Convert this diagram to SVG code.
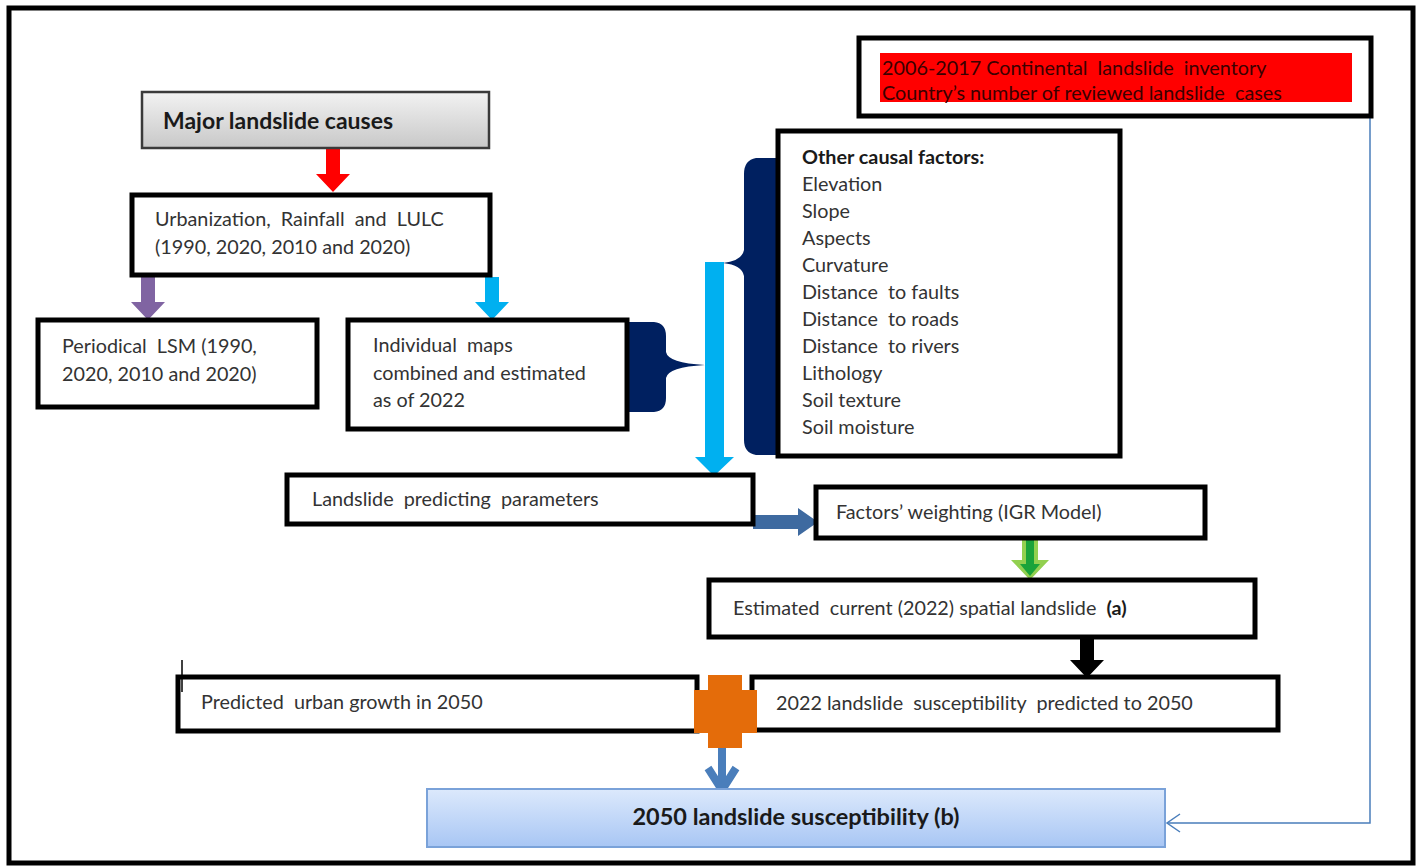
<svg xmlns="http://www.w3.org/2000/svg" width="1421" height="867" viewBox="0 0 1421 867">
<defs>
<style>
.t{font-family:Lato,"Open Sans","Liberation Sans",sans-serif;font-size:19.8px;fill:#333333;white-space:pre}
.b{font-weight:bold;fill:#1a1a1a}
.box{fill:#ffffff;stroke:#000000;stroke-width:5}
</style>
<linearGradient id="gGray" x1="0" y1="0" x2="0" y2="1">
<stop offset="0" stop-color="#f2f2f2"/><stop offset="1" stop-color="#c8c8c8"/>
</linearGradient>
<linearGradient id="gBlue" x1="0" y1="0" x2="0" y2="1">
<stop offset="0" stop-color="#dce9fc"/><stop offset="1" stop-color="#a8c6f4"/>
</linearGradient>
</defs>
<rect x="0" y="0" width="1421" height="867" fill="#ffffff"/>
<rect x="9" y="8" width="1404" height="855" fill="none" stroke="#000" stroke-width="5"/>

<g id="connectors">
<polygon points="326,146 340,146 340,174 350,174 333,192 316,174 326,174" fill="#ff0000"/>
<polygon points="141,277 155,277 155,302 165,302 148,320 131,302 141,302" fill="#8064a2"/>
<polygon points="485,277 499,277 499,302 509,302 492,320 475,302 485,302" fill="#00b0f0"/>
<path d="M628,322 L654,322 Q666,323 666,336 L666,352 Q668,363 705,365 Q668,367 666,378 L666,398 Q666,411 654,412 L628,412 Z" fill="#002060"/>
<path d="M782,158 L756,158 Q744,160 744,174 L744,250 Q742,261 723,263 Q742,265 744,276 L744,440 Q744,453 756,455 L782,455 Z" fill="#002060"/>
<polygon points="705,262 724,262 724,457 734,457 714,476 695,457 705,457" fill="#00b0f0"/>
<polygon points="753,515 798,515 798,508 818,522 798,536 798,529 753,529" fill="#3e6aa0"/>
<polygon points="1022,538 1038,538 1038,560 1049,560 1030,580 1011,560 1022,560" fill="#92d050"/>
<polygon points="1026,540 1034,540 1034,564 1040,564 1030,576 1020,564 1026,564" fill="#1aa33a"/>
<polygon points="1080,637 1094,637 1094,660 1104,660 1087,678 1070,660 1080,660" fill="#000000"/>
<polyline points="1370,50 1370,823 1167,823" fill="none" stroke="#4a7ebb" stroke-width="1.5"/>
<polyline points="1180,814 1167,823 1180,832" fill="none" stroke="#4a7ebb" stroke-width="1.5"/>
<line x1="722" y1="748" x2="722" y2="786" stroke="#4a7ebb" stroke-width="8"/>
<polyline points="708,768 722,790 736,768" fill="none" stroke="#4a7ebb" stroke-width="8"/>
</g>

<g id="n-major">
<rect x="142" y="92" width="347" height="56" fill="url(#gGray)" stroke="#3a3a3a" stroke-width="2.5"/>
<text class="t b" x="163" y="129" style="font-size:23px">Major landslide causes</text>
</g>

<g id="n-urban">
<rect class="box" x="132" y="195" width="358" height="80"/>
<text class="t" x="155" y="226">Urbanization,  Rainfall  and  LULC</text>
<text class="t" x="155" y="254">(1990, 2020, 2010 and 2020)</text>
</g>

<g id="n-periodical">
<rect class="box" x="38" y="320" width="279" height="87"/>
<text class="t" x="62" y="353">Periodical  LSM (1990,</text>
<text class="t" x="62" y="381">2020, 2010 and 2020)</text>
</g>

<g id="n-individual">
<rect class="box" x="348" y="320" width="279" height="109"/>
<text class="t" x="373" y="352">Individual  maps</text>
<text class="t" x="373" y="380">combined and estimated</text>
<text class="t" x="373" y="407">as of 2022</text>
</g>

<g id="n-other">
<rect class="box" x="778" y="131" width="342" height="325"/>
<text class="t b" x="802" y="164">Other causal factors:</text>
<text class="t" x="802" y="191">Elevation</text>
<text class="t" x="802" y="218">Slope</text>
<text class="t" x="802" y="245">Aspects</text>
<text class="t" x="802" y="272">Curvature</text>
<text class="t" x="802" y="299">Distance  to faults</text>
<text class="t" x="802" y="326">Distance  to roads</text>
<text class="t" x="802" y="353">Distance  to rivers</text>
<text class="t" x="802" y="380">Lithology</text>
<text class="t" x="802" y="407">Soil texture</text>
<text class="t" x="802" y="434">Soil moisture</text>
</g>

<g id="n-inventory">
<rect class="box" x="859" y="38" width="512" height="78"/>
<rect x="880" y="53" width="472" height="49" fill="#ff0000"/>
<text class="t" x="882" y="75" style="fill:#3a0000">2006-2017 Continental  landslide  inventory</text>
<text class="t" x="882" y="100" style="fill:#3a0000">Country’s number of reviewed landslide  cases</text>
</g>

<g id="n-params">
<rect class="box" x="287" y="475" width="466" height="49"/>
<text class="t" x="312" y="506">Landslide  predicting  parameters</text>
</g>

<g id="n-weighting">
<rect class="box" x="816" y="487" width="389" height="51"/>
<text class="t" x="836" y="519">Factors’ weighting (IGR Model)</text>
</g>

<g id="n-estimated">
<rect class="box" x="709" y="580" width="546" height="57"/>
<text class="t" x="733" y="615">Estimated  current (2022) spatial landslide  <tspan class="b">(a)</tspan></text>
</g>

<g id="n-urbangrowth">
<rect class="box" x="178" y="677" width="519" height="54"/>
<line x1="182" y1="660" x2="182" y2="692" stroke="#000" stroke-width="1.5"/>
<text class="t" x="201" y="709">Predicted  urban growth in 2050</text>
</g>

<g id="n-predicted">
<rect class="box" x="752" y="677" width="526" height="53"/>
<text class="t" x="776" y="710">2022 landslide  susceptibility  predicted to 2050</text>
</g>

<g id="n-cross">
<polygon points="708,675 742,675 742,690 757,690 757,733 742,733 742,748 708,748 708,733 694,733 694,690 708,690" fill="#e46c0a"/>
</g>

<g id="n-final">
<rect x="427" y="789" width="738" height="58" fill="url(#gBlue)" stroke="#7aa2d9" stroke-width="2"/>
<text class="t b" x="796" y="825" text-anchor="middle" style="font-size:23.5px">2050 landslide susceptibility (b)</text>
</g>
</svg>
